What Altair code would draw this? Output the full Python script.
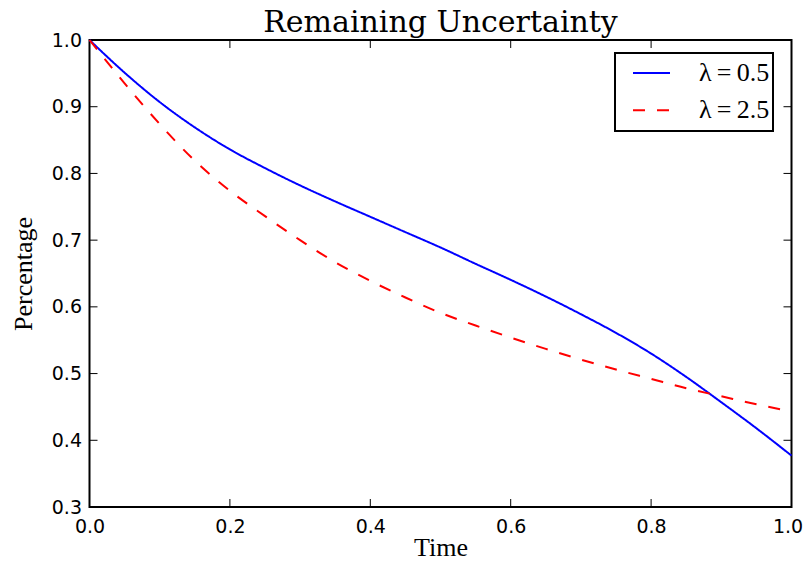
import altair as alt
import pandas as pd

# ---- data ----
time_points = [0.0, 0.05, 0.1, 0.15, 0.2, 0.25, 0.3, 0.35, 0.4, 0.45, 0.5,
               0.55, 0.6, 0.65, 0.7, 0.75, 0.8, 0.85, 0.9, 0.95, 1.0]
lambda_05 = [1.000, 0.951, 0.907, 0.869, 0.836, 0.808, 0.782, 0.758, 0.735, 0.712, 0.689,
             0.6645, 0.6405, 0.6155, 0.589, 0.561, 0.530, 0.495, 0.457, 0.418, 0.377]
lambda_25 = [1.000, 0.935, 0.874, 0.819, 0.774, 0.736, 0.700, 0.667, 0.639, 0.614, 0.591,
             0.572, 0.554, 0.537, 0.521, 0.506, 0.492, 0.478, 0.466, 0.454, 0.443]
series_names = ["λ\u2009=\u20090.5", "λ\u2009=\u20092.5"]
x_ticks = [0.0, 0.2, 0.4, 0.6, 0.8, 1.0]
y_ticks = [0.3, 0.4, 0.5, 0.6, 0.7, 0.8, 0.9, 1.0]

W, H = 702, 467
TICK = 8

rows = []
for name, vals in zip(series_names, [lambda_05, lambda_25]):
    for tt, v in zip(time_points, vals):
        rows.append({"t": tt, "v": v, "series": name})
df = pd.DataFrame(rows)
xt = pd.DataFrame({"t": x_ticks})
yt = pd.DataFrame({"v": y_ticks})

xscale = alt.Scale(domain=[0, 1], nice=False, zero=False)
yscale = alt.Scale(domain=[0.3, 1.0], nice=False, zero=False)

xaxis = alt.Axis(values=x_ticks, format=".1f", title="Time", grid=False, domain=False,
                 ticks=False, labelFont="DejaVu Sans", labelFontSize=19, labelColor="black",
                 labelPadding=10.5, labelFlush=False, labelOverlap=False,
                 labelOffset=alt.condition("datum.value >= 1", alt.value(-4), alt.value(0)),
                 titleFont="Liberation Serif", titleFontSize=26, titleFontWeight="normal",
                 titleColor="black", titleY=48.5, titleBaseline="alphabetic")
yaxis = alt.Axis(values=y_ticks, format=".1f", title="Percentage", grid=False, domain=False,
                 ticks=False, labelFont="DejaVu Sans", labelFontSize=19, labelColor="black",
                 labelPadding=8, labelFlush=False, labelOverlap=False,
                 titleFont="Liberation Serif", titleFontSize=26, titleFontWeight="normal",
                 titleColor="black", titleX=-58, titleBaseline="alphabetic")

legend = alt.Legend(orient="none", legendX=525.5, legendY=13, title=None,
                    symbolType="stroke", symbolSize=1369, symbolStrokeWidth=2,
                    labelFont="Liberation Serif", labelFontSize=26, labelColor="black",
                    strokeColor="black", fillColor="white", padding=3, rowPadding=3.3,
                    clipHeight=34, symbolOffset=14, labelOffset=28, labelLimit=0)

lines = alt.Chart(df).mark_line(strokeWidth=2, interpolate="monotone").encode(
    x=alt.X("t:Q", scale=xscale, axis=xaxis),
    y=alt.Y("v:Q", scale=yscale, axis=yaxis),
    color=alt.Color("series:N", scale=alt.Scale(domain=series_names, range=["#0000ff", "#ff0000"]),
                    legend=legend),
    strokeDash=alt.StrokeDash("series:N", scale=alt.Scale(domain=series_names, range=[[1, 0], [12, 12]]),
                              legend=legend),
)

tick_bottom = alt.Chart(xt).mark_rule(color="black", strokeWidth=1).encode(
    x=alt.X("t:Q", scale=xscale, axis=xaxis), y=alt.value(H), y2=alt.value(H - TICK))
tick_top = alt.Chart(xt).mark_rule(color="black", strokeWidth=1).encode(
    x=alt.X("t:Q", scale=xscale, axis=xaxis), y=alt.value(0), y2=alt.value(TICK))
tick_left = alt.Chart(yt).mark_rule(color="black", strokeWidth=1).encode(
    y=alt.Y("v:Q", scale=yscale, axis=yaxis), x=alt.value(0), x2=alt.value(TICK))
tick_right = alt.Chart(yt).mark_rule(color="black", strokeWidth=1).encode(
    y=alt.Y("v:Q", scale=yscale, axis=yaxis), x=alt.value(W), x2=alt.value(W - TICK))

chart = alt.layer(tick_bottom, tick_top, tick_left, tick_right, lines).properties(
    width=W, height=H,
    title=alt.TitleParams("Remaining Uncertainty", font="DejaVu Serif", fontSize=30,
                          fontWeight="normal", color="black", anchor="middle", offset=-7),
    autosize=alt.AutoSizeParams(type="none"),
    padding={"left": 81.5, "top": 32, "right": 11.5, "bottom": 53},
).configure_view(stroke="black", strokeWidth=2).configure_legend(strokeWidth=2)

chart.save("out.html", embed_options={"renderer": "svg", "actions": False})
